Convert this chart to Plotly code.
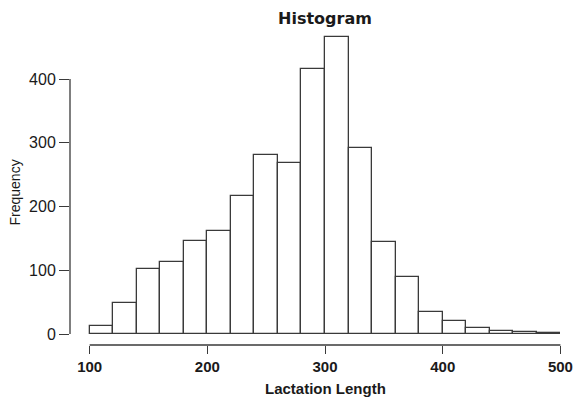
import plotly.graph_objects as go

# Histogram data (bin width 20)
bin_left = [100, 120, 140, 160, 180, 200, 220, 240, 260, 280,
            300, 320, 340, 360, 380, 400, 420, 440, 460, 480]
frequency = [13, 48, 102, 113, 146, 162, 217, 281, 269, 416,
             466, 292, 145, 89, 34, 21, 9, 5, 3, 2]
bin_width = 20
x_ticks = [100, 200, 300, 400, 500]
y_ticks = [0, 100, 200, 300, 400]

centers = [b + bin_width / 2 for b in bin_left]

fig = go.Figure()
fig.add_trace(go.Bar(
    x=centers, y=frequency, width=bin_width,
    marker=dict(color="white", line=dict(color="#3a3a3a", width=1.3)),
    hoverinfo="x+y",
))

L, R, T, B = 70, 14, 28, 53
fig.update_layout(
    width=585, height=398,
    margin=dict(l=L, r=R, t=T, b=B),
    paper_bgcolor="white", plot_bgcolor="white",
    showlegend=False,
    bargap=0,
    font=dict(family="Liberation Sans, Arial, sans-serif", color="#1a1a1a"),
    xaxis=dict(
        range=[83.3, 500.5], tickvals=x_ticks, ticks="outside", ticklen=8,
        tickwidth=1.3, tickcolor="#3a3a3a", showline=False, showgrid=False,
        zeroline=False,
        tickfont=dict(size=15, weight="bold", family="Liberation Sans, Arial"),
    ),
    yaxis=dict(
        range=[-17.2, 480], tickvals=y_ticks, ticks="outside", ticklen=10,
        tickwidth=1.3, tickcolor="#3a3a3a", showline=False, showgrid=False,
        zeroline=False,
        tickfont=dict(size=16, family="Liberation Sans, Arial"),
    ),
    shapes=[
        dict(type="line", xref="x", yref="paper", x0=x_ticks[0], x1=x_ticks[-1],
             y0=0, y1=0, line=dict(color="#3a3a3a", width=1.3)),
        dict(type="line", xref="paper", yref="y", x0=0, x1=0,
             y0=y_ticks[0], y1=y_ticks[-1], line=dict(color="#3a3a3a", width=1.3)),
    ],
    annotations=[
        dict(text="<b>Histogram</b>", xref="x", yref="paper", x=300, y=1,
             yshift=10, showarrow=False, yanchor="middle",
             font=dict(size=16, family="DejaVu Sans")),
        dict(text="<b>Lactation Length</b>", xref="x", yref="paper", x=300, y=0,
             yshift=-43, showarrow=False, yanchor="middle",
             font=dict(size=15)),
        dict(text="Frequency", xref="paper", yref="y", x=0, y=222,
             xshift=-55, showarrow=False, textangle=-90, xanchor="center",
             font=dict(size=14)),
    ],
)

fig.write_html(
    "out.html",
    config={"displayModeBar": False},
    post_script="document.body.style.margin='0';document.body.style.padding='0';",
)
